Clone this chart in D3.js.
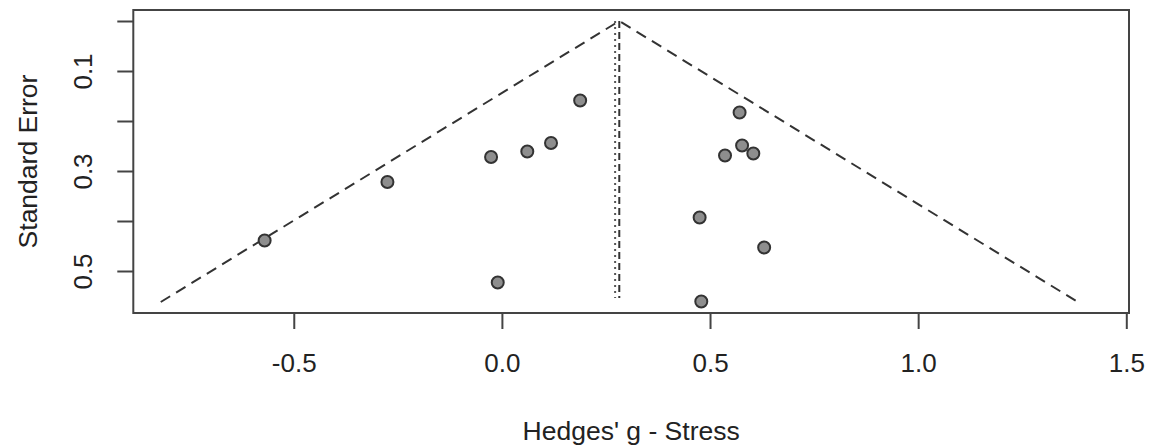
<!DOCTYPE html>
<html>
<head>
<meta charset="utf-8">
<script src="https://cdn.jsdelivr.net/npm/d3@7"></script>
<style>
    body { margin: 0; background: #fff; }
    text { font-family: "Liberation Sans", Arial, sans-serif; fill: #222; }
</style>
</head>
<body>
<div id="Funnel"></div>
<script>
// Study effects (Hedges' g) and standard errors
var effects = [-0.570, -0.275, -0.026, 0.061, 0.118, 0.188, -0.010,
               0.571, 0.577, 0.536, 0.604, 0.475, 0.630, 0.479];
var stdErrors = [0.439, 0.322, 0.272, 0.261, 0.244, 0.159, 0.523,
                 0.183, 0.249, 0.269, 0.265, 0.393, 0.453, 0.561];

// Pooled estimates (dashed = funnel centre, dotted = second estimate)
var pooledEstimate = 0.282;
var secondEstimate = 0.272;
var maxSE = 0.562;

var xTicks = [-0.5, 0.0, 0.5, 1.0, 1.5];
var yTicks = [0, 0.1, 0.2, 0.3, 0.4, 0.5];
var yLabelled = [0.1, 0.3, 0.5];

var width = 1160, height = 447;
var box = {left: 133.3, right: 1129, top: 10, bottom: 313};

// Plain hyphen for negatives, like the R output
function fmt(d) { return d.toFixed(1); }

var xScale = d3.scaleLinear()
    .domain([-0.8855, 1.5065])
    .range([box.left, box.right]);

var yScale = d3.scaleLinear()
    .domain([-0.022, 0.584])
    .range([box.top, box.bottom]);

var svg = d3.select("#Funnel")
    .append("svg")
    .attr("width", width)
    .attr("height", height);

// Funnel (95% pseudo-confidence region)
var funnel = [
    [pooledEstimate - 1.96 * maxSE, maxSE],
    [pooledEstimate, 0],
    [pooledEstimate + 1.96 * maxSE, maxSE]
];
var line = d3.line()
    .x(function (d) { return xScale(d[0]); })
    .y(function (d) { return yScale(d[1]); });

svg.append("path")
    .attr("d", line(funnel))
    .attr("fill", "none")
    .attr("stroke", "#333")
    .attr("stroke-width", 2)
    .attr("stroke-dasharray", "11,7");

// Vertical estimate lines
svg.append("line")
    .attr("x1", xScale(secondEstimate)).attr("x2", xScale(secondEstimate))
    .attr("y1", yScale(0)).attr("y2", yScale(0.554))
    .attr("stroke", "#555")
    .attr("stroke-width", 2)
    .attr("stroke-dasharray", "2,4");

svg.append("line")
    .attr("x1", xScale(pooledEstimate)).attr("x2", xScale(pooledEstimate))
    .attr("y1", yScale(0)).attr("y2", yScale(0.554))
    .attr("stroke", "#333")
    .attr("stroke-width", 2)
    .attr("stroke-dasharray", "7,4");

// Study points
svg.selectAll("circle.study")
    .data(effects)
    .enter()
    .append("circle")
    .attr("class", "study")
    .attr("cx", function (d) { return xScale(d); })
    .attr("cy", function (d, i) { return yScale(stdErrors[i]); })
    .attr("r", 6)
    .attr("fill", "#8e8e8e")
    .attr("stroke", "#333")
    .attr("stroke-width", 2);

// Plot box
svg.append("rect")
    .attr("x", box.left)
    .attr("y", box.top)
    .attr("width", box.right - box.left)
    .attr("height", box.bottom - box.top)
    .attr("fill", "none")
    .attr("stroke", "#444")
    .attr("stroke-width", 2);

// X axis
var xAxis = svg.append("g")
    .attr("transform", "translate(0," + box.bottom + ")")
    .call(d3.axisBottom(xScale)
        .tickValues(xTicks)
        .tickFormat(fmt)
        .tickSize(16)
        .tickPadding(25));
xAxis.select(".domain").remove();
xAxis.selectAll(".tick line").attr("stroke", "#444").attr("stroke-width", 2);
xAxis.selectAll(".tick text")
    .style("font-size", "26px")
    .style("font-family", "Liberation Sans, Arial, sans-serif")
    .attr("fill", "#222");

// Y axis
var yAxis = svg.append("g")
    .attr("transform", "translate(" + box.left + ",0)")
    .call(d3.axisLeft(yScale)
        .tickValues(yTicks)
        .tickFormat(function (d) { return yLabelled.indexOf(d) >= 0 ? fmt(d) : ""; })
        .tickSize(16));
yAxis.select(".domain").remove();
yAxis.selectAll(".tick line").attr("stroke", "#444").attr("stroke-width", 2);
yAxis.selectAll(".tick text")
    .attr("x", null).attr("dy", null)
    .attr("transform", "translate(-41,0) rotate(-90)")
    .attr("text-anchor", "middle")
    .attr("y", 0)
    .style("font-size", "26px")
    .style("font-family", "Liberation Sans, Arial, sans-serif")
    .attr("fill", "#222");

// Axis titles
svg.append("text")
    .attr("x", (box.left + box.right) / 2)
    .attr("y", 440)
    .attr("text-anchor", "middle")
    .style("font-size", "26.5px")
    .text("Hedges' g - Stress");

svg.append("text")
    .attr("transform", "translate(37," + ((box.top + box.bottom) / 2) + ") rotate(-90)")
    .attr("text-anchor", "middle")
    .style("font-size", "26.5px")
    .text("Standard Error");
</script>
</body>
</html>
